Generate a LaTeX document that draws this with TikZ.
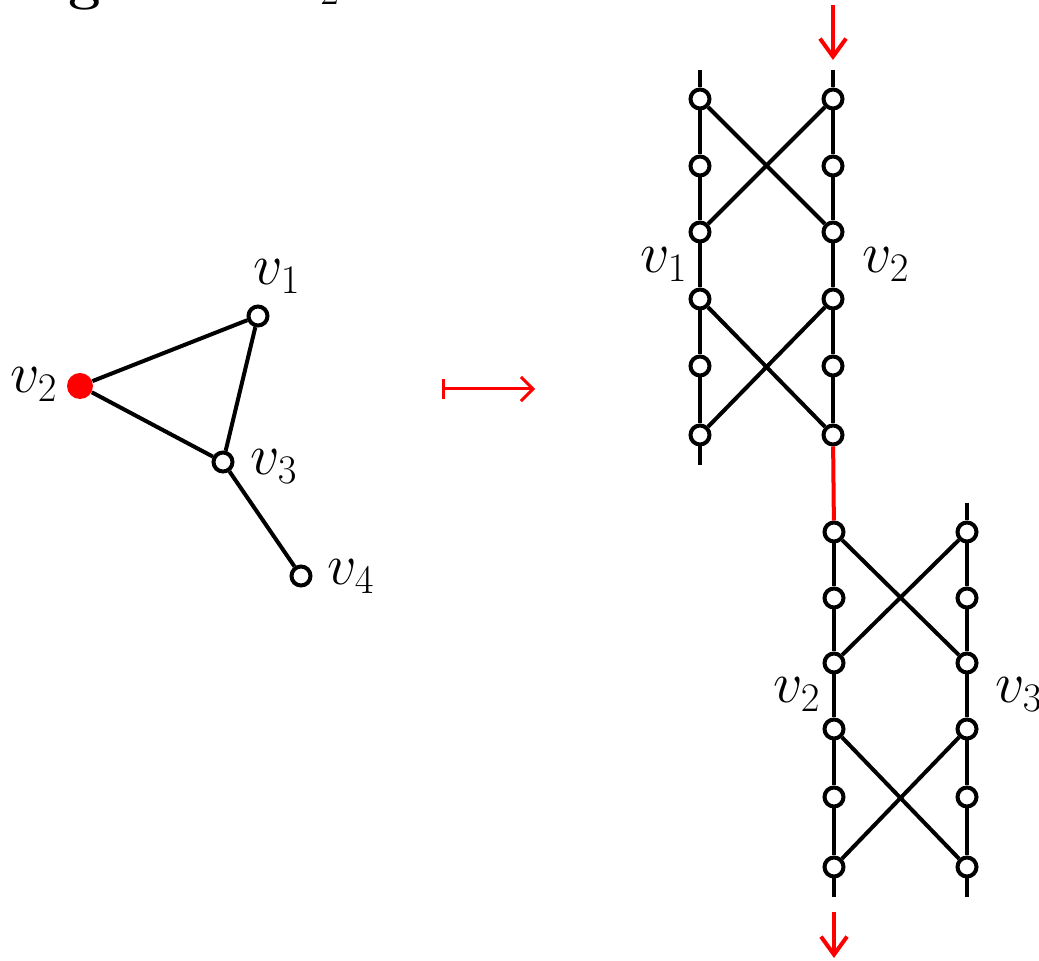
\RequirePackage{fix-cm}
\documentclass[tikz,border=0pt]{standalone}
\usetikzlibrary{arrows.meta}
\begin{document}
\begin{tikzpicture}[x=0.5pt,y=-0.5pt,
  vtx/.style={circle,draw,line width=2pt,fill=white,minimum size=9.5pt,inner sep=0pt},
  redvtx/.style={circle,fill=red,minimum size=13pt,inner sep=0pt},
  edge/.style={line width=2pt},
  lab/.style={anchor=base west,inner sep=0pt,font=\fontsize{29}{35}\selectfont},
  redarr/.style={red,line width=2pt,-{Straight Barb[length=9pt,width=13pt]}},
  ]
\useasboundingbox (0,0) rectangle (1039,961);
% clipped caption fragments at the top
\node[anchor=base,inner sep=0pt,font=\fontsize{29}{35}\selectfont\bfseries] (capg) at (85,-1) {g};
\node[anchor=base west,inner sep=0pt,font=\fontsize{29}{35}\selectfont] (cap2) at (320,-4) {$_2$};

% left graph
\node[vtx] (v1) at (258,316) {};
\node[redvtx] (v2) at (80,386) {};
\node[vtx] (v3) at (223,462) {};
\node[vtx] (v4) at (301,576) {};
\draw[edge] (v2) -- (v1);
\draw[edge] (v2) -- (v3);
\draw[edge] (v1) -- (v3);
\draw[edge] (v3) -- (v4);
\node[lab] (l1) at (253,285) {$v_1$};
\node[lab] (l2) at (10,393) {$v_2$};
\node[lab] (l3) at (250,475) {$v_3$};
\node[lab] (l4) at (327,585) {$v_4$};

% mapsto
\coordinate (ms) at (442,389);
\coordinate (me) at (535,389);
\draw[red,line width=1.5pt,{Bar[width=10pt]}-{Straight Barb[length=6pt,width=12pt]}] (ms) -- (me);

% top ladder
\foreach \i/\y in {1/99,2/166,3/232,4/299,5/366,6/435}{
  \node[vtx] (a\i) at (700,\y) {};
  \node[vtx] (b\i) at (833,\y) {};
}
\coordinate (at) at (700,70);
\coordinate (ab) at (700,465);
\coordinate (bt) at (833,70);
\draw[edge] (at) -- (a1) -- (a2) -- (a3) -- (a4) -- (a5) -- (a6) -- (ab);
\draw[edge] (bt) -- (b1) -- (b2) -- (b3) -- (b4) -- (b5) -- (b6);
\draw[edge] (a1) -- (b3);
\draw[edge] (b1) -- (a3);
\draw[edge] (a4) -- (b6);
\draw[edge] (b4) -- (a6);
\node[lab] (la1) at (640,273) {$v_1$};
\node[lab] (lb2) at (862,273) {$v_2$};

% bottom ladder
\foreach \i/\y in {1/532,2/598,3/663,4/729,5/797,6/867}{
  \node[vtx] (c\i) at (834,\y) {};
  \node[vtx] (d\i) at (967,\y) {};
}
\coordinate (cb) at (834,897);
\coordinate (dt) at (967,503);
\coordinate (db) at (967,897);
\draw[edge] (c1) -- (c2) -- (c3) -- (c4) -- (c5) -- (c6) -- (cb);
\draw[edge] (dt) -- (d1) -- (d2) -- (d3) -- (d4) -- (d5) -- (d6) -- (db);
\draw[edge] (c1) -- (d3);
\draw[edge] (d1) -- (c3);
\draw[edge] (c4) -- (d6);
\draw[edge] (d4) -- (c6);
\node[lab] (lc2) at (773,703) {$v_2$};
\node[lab] (ld3) at (995,703) {$v_3$};

% red connections
\draw[edge,red] (b6) -- (c1);
\coordinate (ta) at (833,5);
\coordinate (tb) at (833,60);
\draw[redarr] (ta) -- (tb);
\coordinate (ua) at (834,912);
\coordinate (ub) at (834,958);
\draw[redarr] (ua) -- (ub);
\end{tikzpicture}
\end{document}
